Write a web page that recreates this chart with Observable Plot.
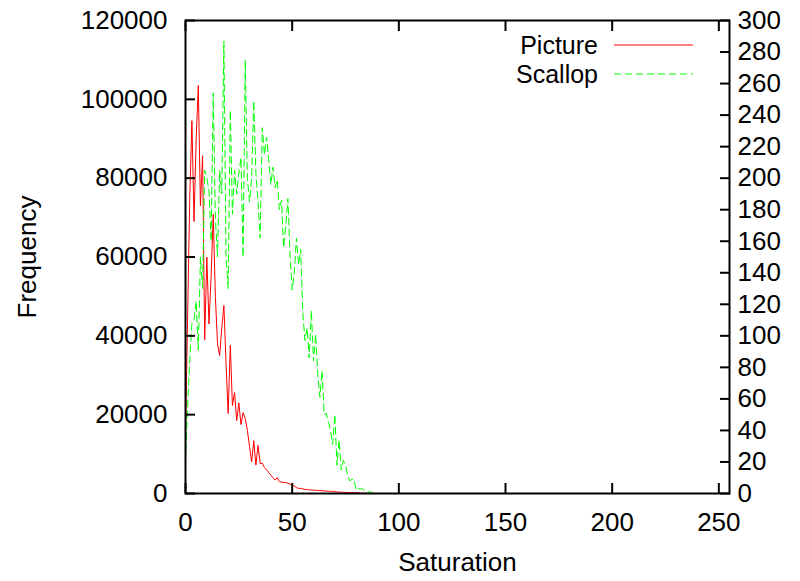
<!DOCTYPE html>
<html><head><meta charset="utf-8">
<script src="https://cdn.jsdelivr.net/npm/d3@7"></script>
<script src="https://cdn.jsdelivr.net/npm/@observablehq/plot@0.6"></script>
<style>body{margin:0;background:#fff}</style>
</head><body><div id="chart"></div>
<script>
const saturation = d3.range(0, 93);
const picture = [15000,45000,75000,94600,69000,90000,103500,73000,85700,39000,
  60000,43000,55000,70800,50000,38000,35000,42000,47700,33000,
  20300,37600,22300,25600,18500,23000,17500,20500,19000,16000,
  12000,8000,13400,7200,12200,7600,7700,6600,6000,5300,
  4700,4000,3400,4000,3000,2900,2800,2800,2600,2400,
  2100,1900,1500,1300,1300,1150,1050,1000,920,880,
  850,800,780,760,700,650,620,590,560,500,
  450,400,360,330,300,270,250,220,200,180,
  170,150,130,110,90,70,50,40,30,20,
  10,5,0];
const scallop = [20,55,85,108,110,122,91,150,130,205,
  200,192,160,254,175,150,205,190,287,150,
  130,243,177,205,190,203,213,150,275,200,
  185,200,249,203,185,162,232,215,226,212,
  196,207,194,199,180,186,156,170,187,152,
  129,140,162,145,155,114,97,105,86,116,
  84,101,76,61,78,50,51,45,40,31,
  50,18,34,15,21,18,12,8,9,9,
  2,3,3,3,1.5,1,1,1,0,0,
  0,0,0];
const xTicks = [0,50,100,150,200,250];
const yTicks = [0,20000,40000,60000,80000,100000,120000];
const y2Ticks = [0,20,40,60,80,100,120,140,160,180,200,220,240,260,280,300];
const seriesNames = ["Picture","Scallop"];
const seriesColors = ["#ff0000","#00ff00"];

const ratio = 120000 / 300;
const rows = saturation.map((s, i) => ({s, picture: picture[i], scallop: scallop[i] * ratio}));
const font = "'Liberation Sans Narrow', 'Liberation Sans', Arial, sans-serif";

const plot = Plot.plot({
  width: 800, height: 581,
  marginLeft: 185, marginRight: 71, marginTop: 20, marginBottom: 88,
  style: {fontFamily: font, fontSize: "26px", background: "#fff", color: "#000"},
  x: {domain: [0, 255]},
  y: {domain: [0, 120000]},
  marks: [
    Plot.lineY(rows, {x: "s", y: "picture", stroke: seriesColors[0], strokeWidth: 1}),
    Plot.lineY(rows, {x: "s", y: "scallop", stroke: seriesColors[1], strokeWidth: 1, strokeDasharray: "7,4"}),
    Plot.axisX({anchor: "bottom", ticks: xTicks, tickSize: -10, tickPadding: 29, strokeWidth: 2, fontSize: 26, label: "Saturation", labelAnchor: "center", labelOffset: 77, labelArrow: "none"}),
    Plot.axisX({anchor: "top", ticks: xTicks, tickSize: -10, tickFormat: () => "", strokeWidth: 2, label: null}),
    Plot.axisY({anchor: "left", ticks: yTicks, tickSize: -10, tickPadding: 28, tickFormat: d3.format("d"), strokeWidth: 2, fontSize: 26, label: "Frequency", labelAnchor: "center", labelOffset: 168, labelArrow: "none"}),
    Plot.axisY({anchor: "right", ticks: y2Ticks.map(v => v * ratio), tickSize: -10, tickPadding: 18, tickFormat: d => String(Math.round(d / ratio)), strokeWidth: 2, fontSize: 26, label: null}),
    Plot.frame({stroke: "#000", strokeWidth: 2})
  ]
});
document.getElementById("chart").appendChild(plot);

// legend
const svg = d3.select(plot);
const leg = svg.append("g").attr("font-family", font).attr("font-size", 25);
seriesNames.forEach((name, i) => {
  const y = 45 + i * 29;
  leg.append("text").attr("x", 598).attr("y", y).attr("dy", "0.35em").attr("text-anchor", "end").attr("fill", "#000").text(name);
  leg.append("line").attr("x1", 614).attr("x2", 693).attr("y1", y).attr("y2", y)
    .attr("stroke", seriesColors[i]).attr("stroke-width", 1).attr("stroke-dasharray", i ? "7,4" : null);
});
</script></body></html>
